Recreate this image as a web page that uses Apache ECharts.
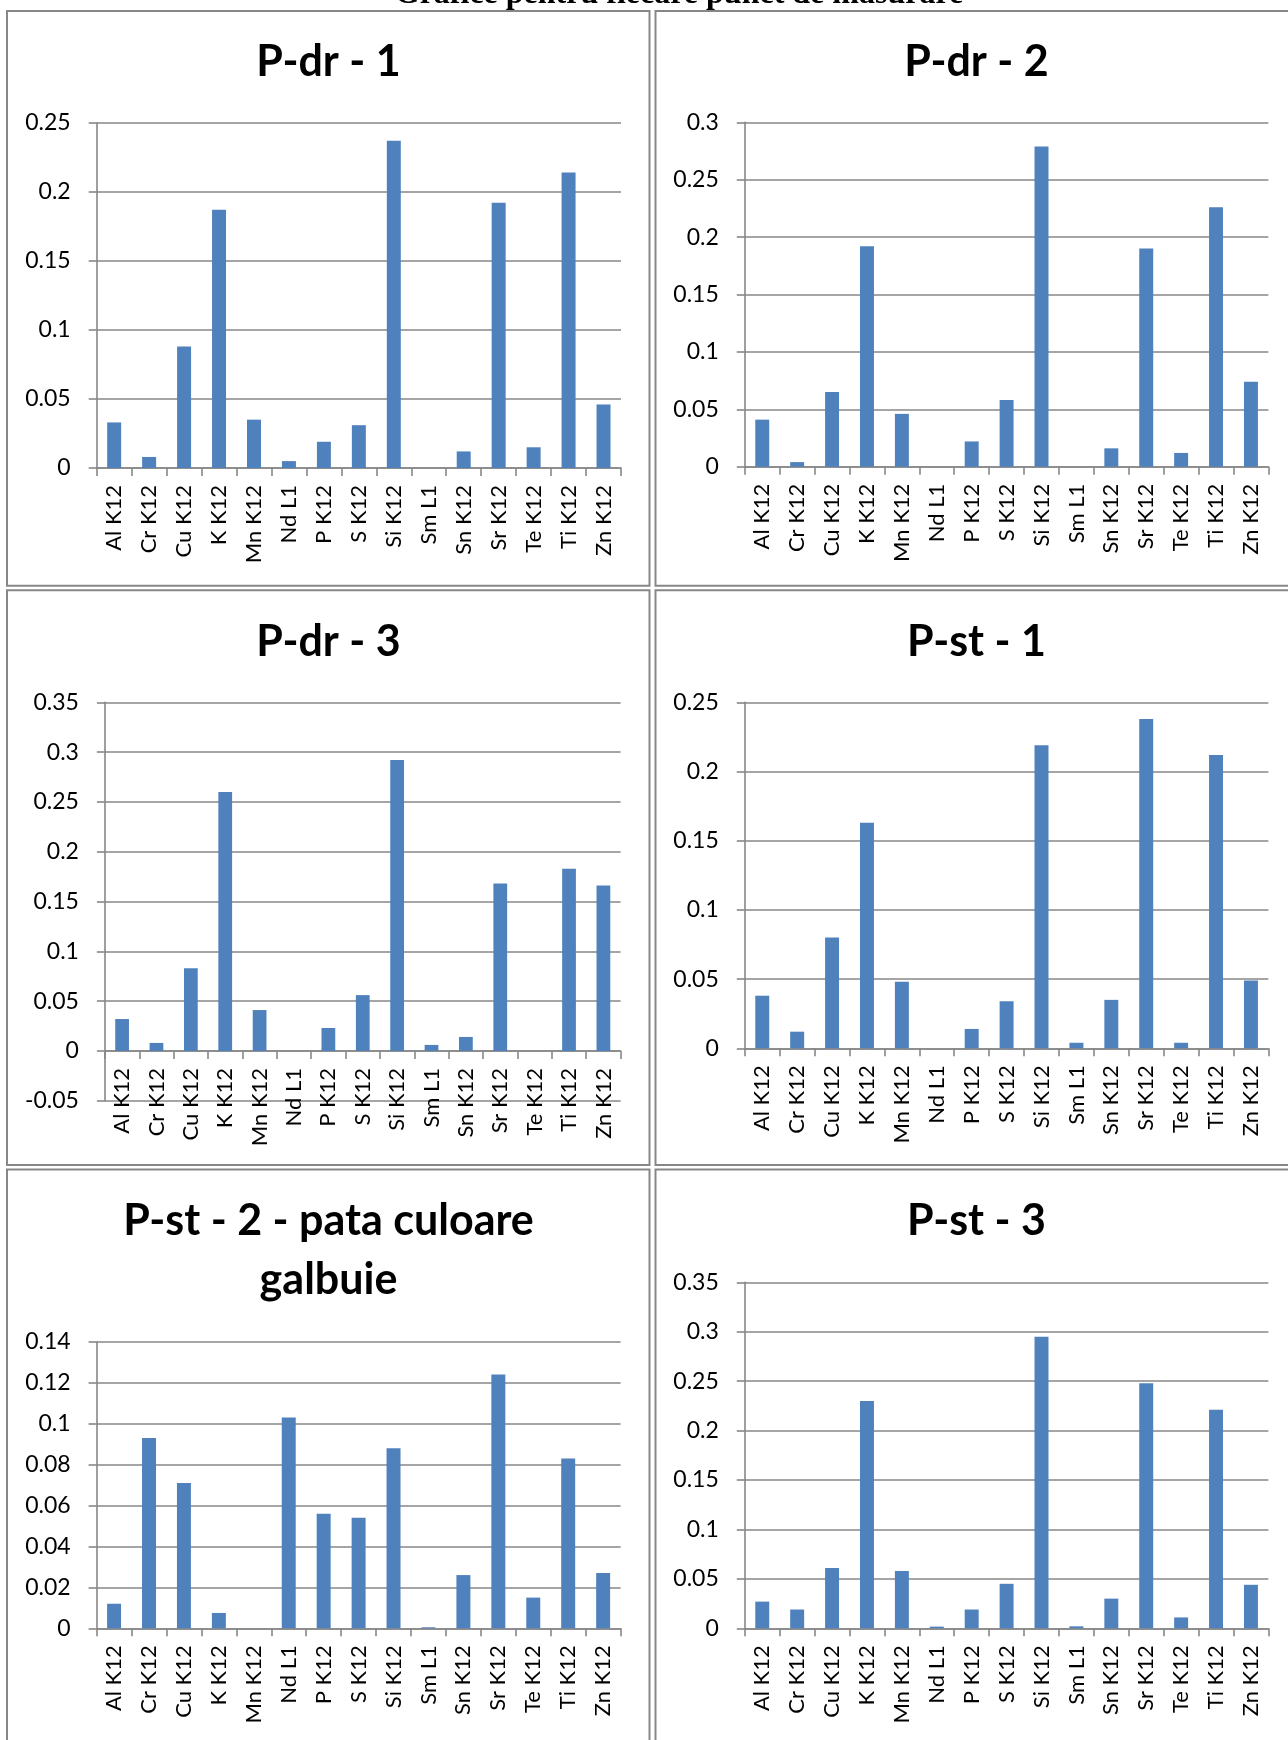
<!DOCTYPE html>
<html>
<head>
<meta charset="utf-8">
<title>Grafice pentru fiecare punct de masurare</title>
<script src="https://cdn.jsdelivr.net/npm/echarts@6/dist/echarts.min.js"></script>
<style>
  html, body { margin: 0; padding: 0; background: #ffffff; }
  #chart { width: 1288px; height: 1740px; }
</style>
</head>
<body>
<div id="chart"></div>
<script>
// Measured elements (one bar per line)
const categories = ['Al K12', 'Cr K12', 'Cu K12', 'K K12', 'Mn K12', 'Nd L1', 'P K12', 'S K12',
  'Si K12', 'Sm L1', 'Sn K12', 'Sr K12', 'Te K12', 'Ti K12', 'Zn K12'];

// Concentrations for each measuring point
const pdr1 = [0.033, 0.008, 0.088, 0.187, 0.035, 0.005, 0.019, 0.031, 0.237, 0, 0.012, 0.192, 0.015, 0.214, 0.046];
const pdr2 = [0.041, 0.004, 0.065, 0.192, 0.046, 0, 0.022, 0.058, 0.279, 0, 0.016, 0.190, 0.012, 0.226, 0.074];
const pdr3 = [0.032, 0.008, 0.083, 0.260, 0.041, 0, 0.023, 0.056, 0.292, 0.006, 0.014, 0.168, 0, 0.183, 0.166];
const pst1 = [0.038, 0.012, 0.080, 0.163, 0.048, 0, 0.014, 0.034, 0.219, 0.004, 0.035, 0.238, 0.004, 0.212, 0.049];
const pst2 = [0.012, 0.093, 0.071, 0.0075, 0, 0.103, 0.056, 0.054, 0.088, 0.0005, 0.026, 0.124, 0.015, 0.083, 0.027];
const pst3 = [0.027, 0.019, 0.061, 0.230, 0.058, 0.0017, 0.019, 0.045, 0.295, 0.002, 0.030, 0.248, 0.011, 0.221, 0.044];

// Value-axis ticks of each chart
const ticksPdr1 = [0, 0.05, 0.1, 0.15, 0.2, 0.25];
const ticksPdr2 = [0, 0.05, 0.1, 0.15, 0.2, 0.25, 0.3];
const ticksPdr3 = [-0.05, 0, 0.05, 0.1, 0.15, 0.2, 0.25, 0.3, 0.35];
const ticksPst1 = [0, 0.05, 0.1, 0.15, 0.2, 0.25];
const ticksPst2 = [0, 0.02, 0.04, 0.06, 0.08, 0.1, 0.12, 0.14];
const ticksPst3 = [0, 0.05, 0.1, 0.15, 0.2, 0.25, 0.3, 0.35];

const pageHeading = 'Grafice pentru fiecare punct de masurare';
const panelTitles = ['P-dr - 1', 'P-dr - 2', 'P-dr - 3', 'P-st - 1', 'P-st - 2 - pata culoare\ngalbuie', 'P-st - 3'];

const panelData = [pdr1, pdr2, pdr3, pst1, pst2, pst3];
const panelTicks = [ticksPdr1, ticksPdr2, ticksPdr3, ticksPst1, ticksPst2, ticksPst3];

// Page layout: frame boxes, plot rectangles and title anchors (px)
const frames = [
  { x: 7, y: 11, w: 642.5, h: 574.8 },
  { x: 655.5, y: 11, w: 642.5, h: 574.8 },
  { x: 7, y: 590.2, w: 642.5, h: 574.8 },
  { x: 655.5, y: 590.2, w: 642.5, h: 574.8 },
  { x: 7, y: 1169.4, w: 642.5, h: 600 },
  { x: 655.5, y: 1169.4, w: 642.5, h: 600 }
];
const plots = [
  { left: 96.7, top: 122.7, width: 524.3, height: 345.3 },
  { left: 744.8, top: 122.3, width: 523.6, height: 344.4 },
  { left: 104.9, top: 702.3, width: 515.7, height: 398.4 },
  { left: 744.8, top: 702.3, width: 523.6, height: 346.0 },
  { left: 96.6, top: 1341.7, width: 524.0, height: 286.6 },
  { left: 744.8, top: 1282.3, width: 523.6, height: 346.0 }
];
const titleAnchors = [
  { x: 328.5, y: 62.3 }, { x: 976.5, y: 62.3 },
  { x: 328.5, y: 641.7 }, { x: 976.5, y: 641.7 },
  { x: 328.5, y: 1251 }, { x: 976.5, y: 1221.5 }
];

const BAR = '#4F81BD';
const LINE = '#878787';
const FONT = 'Lato, "Noto Sans", sans-serif';

const chart = echarts.init(document.getElementById('chart'), null, { renderer: 'canvas' });

const grids = [], xAxes = [], yAxes = [], series = [], graphics = [];

panelData.forEach((values, i) => {
  const ticks = panelTicks[i];
  const yMin = ticks[0];
  const yMax = ticks[ticks.length - 1];
  // The category axis sits on the zero line; lift it there when the range goes below zero
  const zeroLift = yMin < 0 ? -(0 - yMin) / (yMax - yMin) * plots[i].height : 0;

  grids.push(Object.assign({ containLabel: false }, plots[i]));
  xAxes.push({
    type: 'category',
    gridIndex: i,
    data: categories,
    boundaryGap: true,
    position: 'bottom',
    offset: zeroLift,
    axisLine: { show: true, onZero: false, lineStyle: { color: LINE, width: 1.6 } },
    axisTick: { show: true, length: 8, inside: false, alignWithLabel: false, lineStyle: { color: LINE, width: 1.6 } },
    axisLabel: {
      show: true, interval: 0, rotate: 90, margin: 17,
      color: '#000', fontFamily: FONT, fontSize: 22
    },
    splitLine: { show: false }
  });
  yAxes.push({
    type: 'value',
    gridIndex: i,
    min: yMin,
    max: yMax,
    interval: ticks[1] - ticks[0],
    axisLine: { show: true, lineStyle: { color: LINE, width: 1.6 } },
    axisTick: { show: true, length: 8, inside: false, lineStyle: { color: LINE, width: 1.6 } },
    axisLabel: {
      show: true, margin: 26, color: '#000', fontFamily: FONT, fontSize: 23,
      formatter: v => String(parseFloat(v.toFixed(4)))
    },
    splitLine: { show: true, lineStyle: { color: LINE, width: 1.6 } }
  });
  series.push({
    type: 'bar',
    xAxisIndex: i,
    yAxisIndex: i,
    data: values,
    barWidth: '40%',
    itemStyle: { color: BAR },
    silent: true,
    animation: false
  });
  graphics.push({
    type: 'rect',
    shape: { x: frames[i].x, y: frames[i].y, width: frames[i].w, height: frames[i].h },
    style: { fill: 'none', stroke: LINE, lineWidth: 2 },
    silent: true
  });
  graphics.push({
    type: 'text',
    x: titleAnchors[i].x,
    y: titleAnchors[i].y,
    style: {
      text: panelTitles[i],
      font: 'bold 43px ' + FONT,
      fill: '#000',
      align: 'center',
      verticalAlign: 'middle',
      lineHeight: 59
    },
    silent: true
  });
});

graphics.push({
  type: 'text',
  x: 679,
  y: -5,
  style: {
    text: pageHeading,
    font: 'bold 32px "Liberation Serif", "Times New Roman", serif',
    fill: '#000',
    align: 'center',
    verticalAlign: 'middle'
  },
  silent: true
});

chart.setOption({
  backgroundColor: '#ffffff',
  animation: false,
  grid: grids,
  xAxis: xAxes,
  yAxis: yAxes,
  series: series,
  graphic: { elements: graphics }
});
</script>
</body>
</html>
